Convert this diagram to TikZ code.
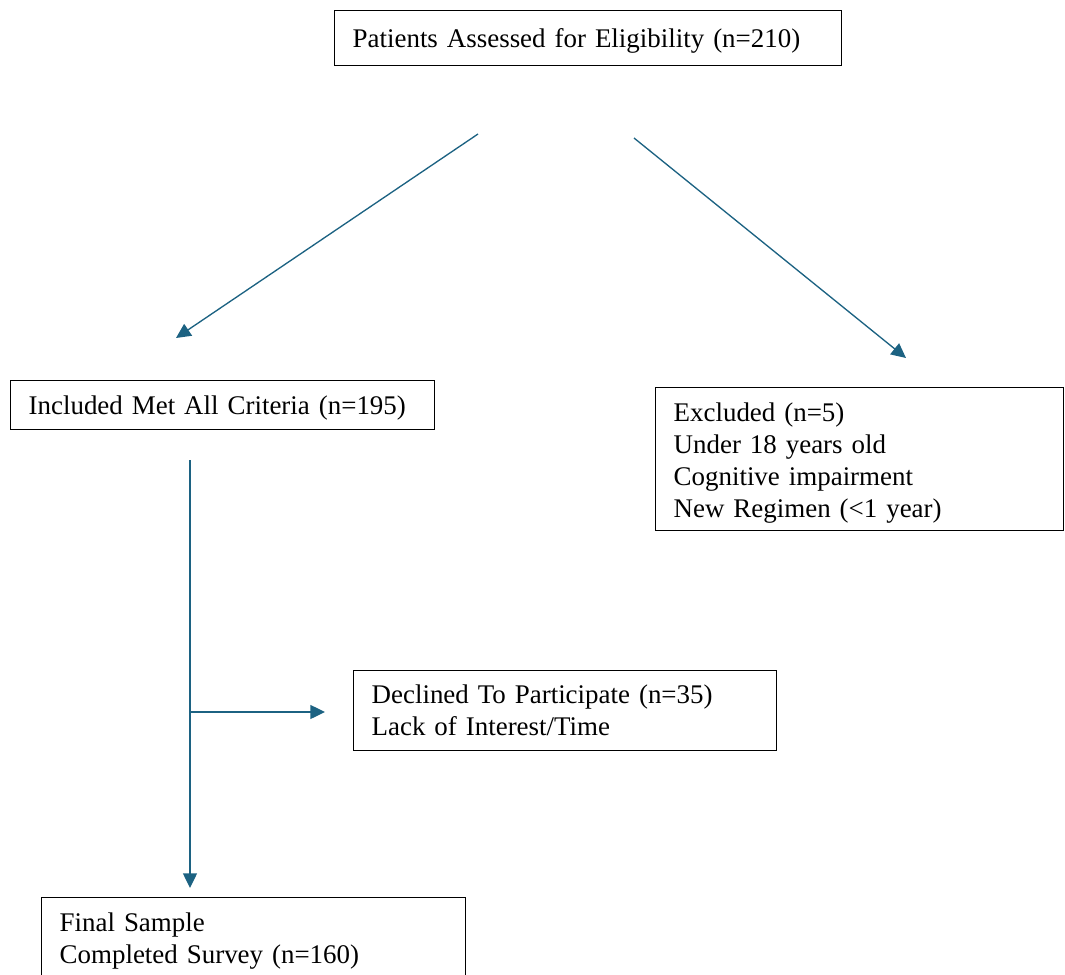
\documentclass[tikz,border=0pt]{standalone}
\usepackage{fontspec}
\setmainfont{Liberation Serif}
\usetikzlibrary{arrows.meta}
\definecolor{FlowClr}{RGB}{28,98,130}

\tikzset{
  flowbox/.style={draw=black,line width=1pt,anchor=north west,align=left,
    inner xsep=13.5pt,inner ysep=0pt,font=\fontsize{20.2}{24}\selectfont},
  textdrop/.style={execute at end node={\par\vspace*{-#1}}},
  flowarrow/.style={draw=FlowClr,line width=1pt,-{Triangle[length=11pt,width=10.5pt]}}
}

\begin{document}
\begin{tikzpicture}[x=0.75pt,y=-0.75pt]
\useasboundingbox (0,0) rectangle (1065,975);

% boxes
\node[flowbox,text width=353.25pt,minimum height=41.25pt,textdrop=9pt] (elig) at (334,10)
  {Patients Assessed for Eligibility (n=210)};
\node[flowbox,text width=291pt,minimum height=36.75pt,textdrop=4.5pt] (incl) at (10,380)
  {Included Met All Criteria (n=195)};
\node[flowbox,text width=279pt,minimum height=107.25pt,textdrop=6pt] (excl) at (655,387)
  {Excluded (n=5)\\Under 18 years old\\Cognitive impairment\\New Regimen (<1 year)};
\node[flowbox,text width=290.25pt,minimum height=60pt] (decl) at (353,670)
  {Declined To Participate (n=35)\\Lack of Interest/Time};
\node[flowbox,text width=291pt,minimum height=61.5pt,textdrop=3pt] (final) at (41,897)
  {Final Sample\\Completed Survey (n=160)};

% arrow ends
\coordinate (eligL) at (478,134);
\coordinate (eligR) at (634,138);
\coordinate (inclT) at (176,338);
\coordinate (exclT) at (906,358);
\coordinate (inclB) at (190,460);
\coordinate (split) at (190,712);
\coordinate (declL) at (325,712);
\coordinate (finalT) at (190,888);

\draw[flowarrow] (eligL) -- (inclT);
\draw[flowarrow] (eligR) -- (exclT);
\draw[flowarrow] (inclB) -- (finalT);
\draw[flowarrow] (split) -- (declL);

\end{tikzpicture}
\end{document}
